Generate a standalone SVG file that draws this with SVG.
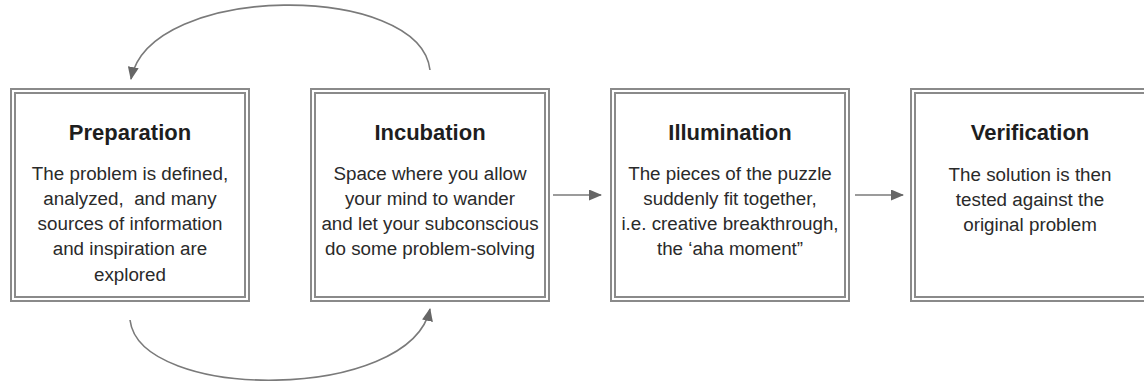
<svg xmlns="http://www.w3.org/2000/svg" width="1144" height="382" viewBox="0 0 1144 382">
  <style>
    .outer { fill: #ffffff; stroke: #8a8a8a; stroke-width: 2; }
    .inner { fill: none; stroke: #8a8a8a; stroke-width: 2; }
    .title { font-family: "Liberation Sans", Arial, sans-serif; font-size: 22px; font-weight: bold; fill: #1e1e1e; text-anchor: middle; }
    .body { font-family: "Liberation Sans", Arial, sans-serif; font-size: 18.8px; fill: #2a2a2a; text-anchor: middle; white-space: pre; }
    .conn { fill: none; stroke: #7a7a7a; stroke-width: 1.6; }
  </style>
  <defs>
    <marker id="arrow" viewBox="0 0 13 11" refX="12" refY="5.5" markerWidth="13" markerHeight="11" markerUnits="userSpaceOnUse" orient="auto">
      <path d="M0,0 L13,5.5 L0,11 Z" fill="#666666"/>
    </marker>
  </defs>
  <rect width="1144" height="382" fill="#ffffff"/>

  <g id="preparation">
    <rect class="outer" x="11" y="89" width="238" height="212"/>
    <rect class="inner" x="15" y="93" width="230" height="204"/>
    <text class="title" x="130" y="140">Preparation</text>
    <text class="body" x="130" y="180">The problem is defined,</text>
    <text class="body" x="130" y="205" xml:space="preserve">analyzed,  and many</text>
    <text class="body" x="130" y="230">sources of information</text>
    <text class="body" x="130" y="255">and inspiration are</text>
    <text class="body" x="130" y="281">explored</text>
  </g>

  <g id="incubation">
    <rect class="outer" x="311" y="89" width="238" height="212"/>
    <rect class="inner" x="315" y="93" width="230" height="204"/>
    <text class="title" x="430" y="140">Incubation</text>
    <text class="body" x="430" y="180">Space where you allow</text>
    <text class="body" x="430" y="205">your mind to wander</text>
    <text class="body" x="430" y="230">and let your subconscious</text>
    <text class="body" x="430" y="255">do some problem-solving</text>
  </g>

  <g id="illumination">
    <rect class="outer" x="611" y="89" width="238" height="212"/>
    <rect class="inner" x="615" y="93" width="230" height="204"/>
    <text class="title" x="730" y="140">Illumination</text>
    <text class="body" x="730" y="180">The pieces of the puzzle</text>
    <text class="body" x="730" y="205">suddenly fit together,</text>
    <text class="body" x="730" y="230">i.e. creative breakthrough,</text>
    <text class="body" x="730" y="255">the ‘aha moment”</text>
  </g>

  <g id="verification">
    <rect class="outer" x="911" y="89" width="238" height="212"/>
    <rect class="inner" x="915" y="93" width="230" height="204"/>
    <text class="title" x="1030" y="140">Verification</text>
    <text class="body" x="1030" y="181">The solution is then</text>
    <text class="body" x="1030" y="206">tested against the</text>
    <text class="body" x="1030" y="231">original problem</text>
  </g>

  <g id="connectors">
    <path class="conn" d="M430,70 C420,-18 150,-18 131,79" marker-end="url(#arrow)"/>
    <path class="conn" d="M130,320 C140,402 410,402 430,309" marker-end="url(#arrow)"/>
    <path class="conn" d="M553,195 L601,195" marker-end="url(#arrow)"/>
    <path class="conn" d="M855,195 L903,195" marker-end="url(#arrow)"/>
  </g>
</svg>
